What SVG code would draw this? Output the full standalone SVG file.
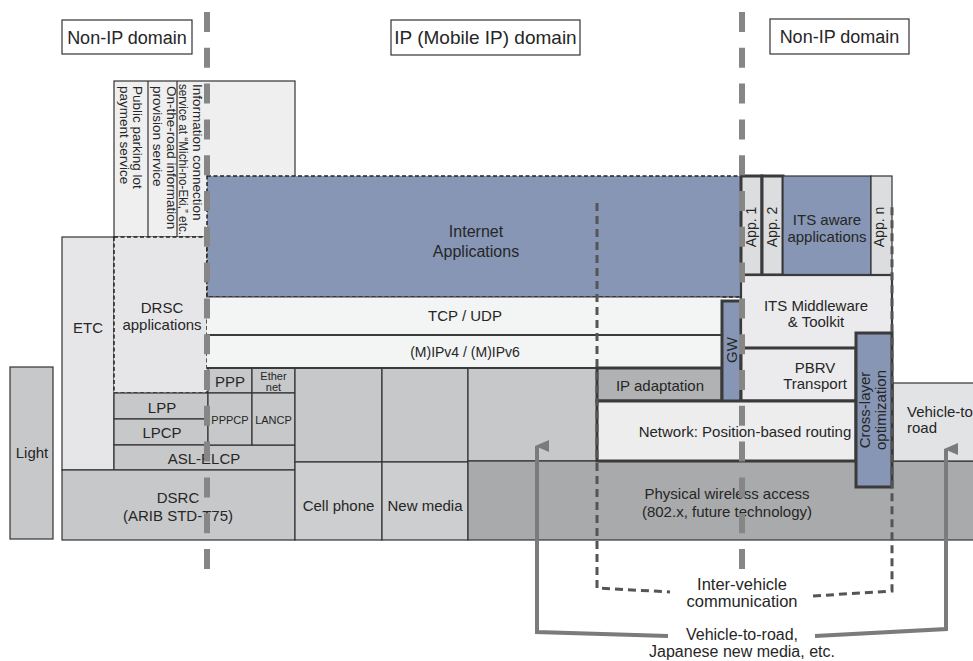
<svg xmlns="http://www.w3.org/2000/svg" width="973" height="661" viewBox="0 0 973 661">
<style>
.t{font-family:"Liberation Sans",Arial,sans-serif;fill:#262626;text-anchor:middle;font-size:15px}
.s{text-anchor:start}
.dom{fill:#fff;stroke:#333;stroke-width:1.2}
.thin{stroke:#333;stroke-width:1.2}
.thick{stroke:#3a3a3a;stroke-width:3}
.med{stroke:#3a3a3a;stroke-width:2.2}
.blue{fill:#8796b5}
.g1{fill:#c7c8ca}
.g2{fill:#a9aaac}
.lt{fill:#e6e6e8}
.wh{fill:#f3f4f4}
.app{fill:#dcdddf}
.dsh{fill:none;stroke:#222;stroke-width:1.5;stroke-dasharray:4 2.5}
.dom-line{fill:none;stroke:#868686;stroke-width:6;stroke-dasharray:20 15.8}
.iv{fill:none;stroke:#555;stroke-width:3;stroke-dasharray:8 5}
.v2r{fill:none;stroke:#7b7b7d;stroke-width:4}
</style>
<defs>
<marker id="ah" viewBox="0 0 12 14" refX="6" refY="2" markerWidth="12" markerHeight="14" markerUnits="userSpaceOnUse" orient="auto-start-reverse">
<path d="M0,14 L6,0 L12,14 Z" fill="#7b7b7d"/>
</marker>
</defs>

<g id="domain-labels">
<rect class="dom" x="62" y="20" width="130" height="34"/>
<text class="t" x="127" y="43.5" style="font-size:18px">Non-IP domain</text>
<rect class="dom" x="391" y="20" width="189" height="35"/>
<text class="t" x="485.5" y="44" style="font-size:19px">IP (Mobile IP) domain</text>
<rect class="dom" x="770" y="19" width="139" height="35"/>
<text class="t" x="839.5" y="43" style="font-size:18px">Non-IP domain</text>
</g>

<g id="services">
<rect class="thin" x="114" y="81" width="181" height="156" fill="#efefef"/>
<line class="thin" x1="148" y1="81" x2="148" y2="237"/>
<line class="thin" x1="177" y1="81" x2="177" y2="237"/>
<text class="t s" transform="translate(133,86) rotate(90)" style="font-size:13.5px"><tspan x="0" y="0">Public parking lot</tspan><tspan x="0" y="13.5">payment service</tspan></text>
<text class="t s" transform="translate(166.5,86) rotate(90)" style="font-size:13.5px"><tspan x="0" y="0">On-the-road information</tspan><tspan x="0" y="13.5">provision service</tspan></text>
<text class="t s" transform="translate(192.5,84) rotate(90)" style="font-size:13.5px"><tspan x="0" y="0">Information connection</tspan><tspan x="0" y="13.5" textLength="151" lengthAdjust="spacingAndGlyphs">service at “Michi-no-Eki,” etc.</tspan></text>
</g>

<g id="etc">
<rect class="thin lt" x="62" y="237" width="52" height="233"/>
<text class="t" x="88" y="333">ETC</text>
</g>

<g id="drsc-apps">
<rect class="lt" x="114" y="237" width="93" height="156"/>
<rect class="dsh" x="114" y="237" width="93" height="156"/>
<text class="t" x="162" y="313">DRSC</text>
<text class="t" x="162" y="330">applications</text>
</g>

<g id="light">
<rect class="thin g1" x="10" y="367" width="43" height="172"/>
<text class="t" x="32" y="458">Light</text>
</g>

<g id="lpp">
<rect class="thin g1" x="114" y="393" width="94" height="26"/>
<text class="t" x="162" y="413">LPP</text>
</g>
<g id="lpcp">
<rect class="thin g1" x="114" y="419" width="94" height="26"/>
<text class="t" x="162" y="438">LPCP</text>
</g>
<g id="asl-elcp">
<rect class="thin g1" x="114" y="445" width="181" height="25"/>
<text class="t" x="204" y="464">ASL-ELCP</text>
</g>
<g id="dsrc">
<rect class="thin g1" x="62" y="470" width="233" height="70"/>
<text class="t" x="178" y="503">DSRC</text>
<text class="t" x="178" y="521">(ARIB STD-T75)</text>
</g>
<g id="ppp">
<rect class="thin g1" x="208" y="368" width="44" height="25"/>
<text class="t" x="230" y="387">PPP</text>
</g>
<g id="ethernet">
<rect class="thin g1" x="252" y="368" width="43" height="25"/>
<text class="t" x="273.5" y="380" style="font-size:11px">Ether</text>
<text class="t" x="273.5" y="391" style="font-size:11px">net</text>
</g>
<g id="pppcp">
<rect class="thin g1" x="208" y="393" width="44" height="52"/>
<text class="t" x="230" y="424" style="font-size:11px">PPPCP</text>
</g>
<g id="lancp">
<rect class="thin g1" x="252" y="393" width="43" height="52"/>
<text class="t" x="273.5" y="424" style="font-size:11px">LANCP</text>
</g>

<g id="mid-columns">
<rect class="thin g1" x="295" y="368" width="87" height="94"/>
<rect class="thin g1" x="382" y="368" width="86" height="94"/>
<rect class="thin g1" x="468" y="368" width="129" height="93"/>
</g>
<g id="cell-phone">
<rect class="thin" fill="#cdcecf" x="295" y="462" width="87" height="78"/>
<text class="t" x="338.5" y="511">Cell phone</text>
</g>
<g id="new-media">
<rect class="thin" fill="#cdcecf" x="382" y="462" width="86" height="78"/>
<text class="t" x="425" y="511">New media</text>
</g>
<g id="physical">
<rect class="thin g2" x="468" y="461" width="510" height="79"/>
<text class="t" x="727" y="499">Physical wireless access</text>
<text class="t" x="727" y="517">(802.x, future technology)</text>
</g>

<g id="internet-apps">
<rect class="blue" x="207" y="176" width="534" height="121"/>
<rect class="dsh" x="207" y="176" width="534" height="121"/>
<text class="t" x="476" y="237" style="font-size:16px">Internet</text>
<text class="t" x="476" y="257" style="font-size:16px">Applications</text>
</g>
<g id="tcp-udp">
<rect class="wh" x="207" y="297" width="515" height="38"/>
<line class="thin" x1="207" y1="297" x2="741" y2="297"/>
<line class="med" x1="207" y1="335" x2="722" y2="335"/>
<text class="t" x="465" y="321">TCP / UDP</text>
</g>
<g id="ipv4-ipv6">
<rect class="wh" x="207" y="336" width="515" height="32"/>
<line class="med" x1="207" y1="368" x2="597" y2="368"/>
<text class="t" x="465" y="357" style="font-size:14px">(M)IPv4 / (M)IPv6</text>
</g>
<g id="ip-adaptation">
<rect class="thick" fill="#b1b2b4" x="597" y="368" width="125" height="33"/>
<text class="t" x="660" y="391">IP adaptation</text>
</g>
<g id="gw">
<rect class="thick blue" x="722" y="301" width="19" height="101"/>
<text class="t" transform="translate(731.5,350) rotate(-90)" x="0" y="5.5">GW</text>
</g>

<g id="app1">
<rect class="thick app" x="741" y="176" width="21" height="99"/>
<text class="t" transform="translate(751.5,227) rotate(-90)" x="0" y="4.5" style="font-size:14px">App. 1</text>
</g>
<g id="app2">
<rect class="thick app" x="762" y="176" width="21" height="99"/>
<text class="t" transform="translate(772.5,227) rotate(-90)" x="0" y="4.5" style="font-size:14px">App. 2</text>
</g>
<g id="its-aware">
<rect class="thin blue" x="783" y="176" width="88" height="99"/>
<text class="t" x="827" y="225">ITS aware</text>
<text class="t" x="827" y="242">applications</text>
</g>
<g id="appn">
<rect class="thin app" x="871" y="176" width="21" height="99"/>
<text class="t" transform="translate(880,227) rotate(-90)" x="0" y="3.5" style="font-size:14px">App. n</text>
</g>
<g id="its-middleware">
<rect class="med" fill="#ebebed" x="741" y="275" width="151" height="73"/>
<text class="t" x="816" y="311">ITS Middleware</text>
<text class="t" x="816" y="327">&amp; Toolkit</text>
</g>
<g id="pbrv">
<rect class="thick" fill="#ebebed" x="741" y="348" width="115" height="53"/>
<text class="t" x="815" y="373">PBRV</text>
<text class="t" x="815" y="389">Transport</text>
</g>
<g id="network">
<rect class="thick" fill="#ededee" x="597" y="401" width="259" height="60"/>
<text class="t" x="745" y="437">Network: Position-based routing</text>
</g>
<g id="vehicle-to-road">
<rect class="thin" fill="#e2e3e5" x="893" y="383" width="85" height="78"/>
<text class="t s" x="907" y="417">Vehicle-to</text>
<text class="t s" x="907" y="433">road</text>
</g>
<g id="cross-layer">
<rect class="thick blue" x="856" y="333" width="36" height="154"/>
<text class="t" transform="translate(864,410) rotate(-90)"><tspan x="0" y="6">Cross-layer</tspan><tspan x="0" y="22">optimization</tspan></text>
</g>

<g id="connectors">
<line class="dom-line" x1="207" y1="12" x2="207" y2="570"/>
<line class="dom-line" x1="742" y1="12" x2="742" y2="570"/>
<polyline class="iv" points="597,203 597,588 670,592"/>
<polyline class="iv" points="813,596 892,591 892,203"/>
<polyline class="v2r" points="668,636 537,632 537,446" marker-end="url(#ah)"/>
<polyline class="v2r" points="815,636 946,629 946,449" marker-end="url(#ah)"/>
</g>

<g id="bottom-labels">
<text class="t" x="742" y="590" style="font-size:16.5px">Inter-vehicle</text>
<text class="t" x="742" y="607" style="font-size:16.5px">communication</text>
<text class="t" x="742" y="640" style="font-size:16px">Vehicle-to-road,</text>
<text class="t" x="742" y="657" style="font-size:16px">Japanese new media, etc.</text>
</g>
</svg>
